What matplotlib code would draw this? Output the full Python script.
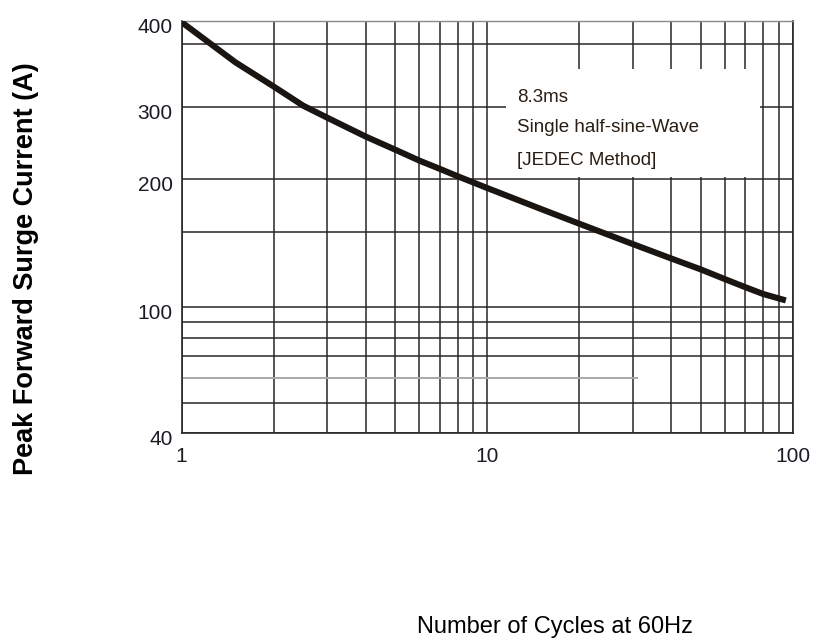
import matplotlib
matplotlib.use("Agg")
import matplotlib.pyplot as plt
import matplotlib.transforms as mtrans
import numpy as np
from matplotlib.patches import Rectangle
from matplotlib.ticker import FixedLocator, NullFormatter

# surge curve
cycles = [1, 1.5, 2, 2.5, 3, 4, 5, 6, 7, 8, 10, 15, 20, 30, 40, 50, 60, 70, 80, 95]
current = [398, 348, 321, 301, 282, 254, 236, 222, 212, 203.5, 190.8, 170.3,
           157.3, 140.8, 130.3, 122.8, 116.5, 111.5, 107.5, 103.8]

# the printed y axis is not a true log axis: labels sit at uneven heights
y_labels = [40, 100, 200, 300, 400]
y_label_pos = [0.0, 126.0, 254.0, 326.6, 412.6]
y_minor = [50, 70, 80, 90, 150, 370]
gray_level = 60
gray_span = [1, 31]

x_ticks = [1, 10, 100]
x_minor = [2, 3, 4, 5, 6, 7, 8, 9, 20, 30, 40, 50, 60, 70, 80, 90]

note_lines = ["8.3ms", "Single half-sine-Wave", "[JEDEC Method]"]

log_lab = np.log10(y_labels)


def fwd(v):
    v = np.clip(np.asarray(v, dtype=float), 1e-6, None)
    return np.interp(np.log10(v), log_lab, y_label_pos)


def inv(p):
    return 10 ** np.interp(np.asarray(p, dtype=float), y_label_pos, log_lab)


fig = plt.figure(figsize=(8.15, 6.43), dpi=100)
ax = fig.add_axes([0.2229, 0.3261, 0.7497, 0.6417])

ax.set_xscale("log")
ax.set_yscale("function", functions=(fwd, inv))
ax.set_xlim(1, 100)
ax.set_ylim(40, 400)

ax.plot(cycles, current, color="#1b1512", lw=4.4, solid_capstyle="butt",
        solid_joinstyle="round", zorder=3)
ax.plot(gray_span, [gray_level, gray_level], color="#a8a8a8", lw=1.4, zorder=1)

ax.xaxis.set_major_locator(FixedLocator(x_ticks))
ax.xaxis.set_minor_locator(FixedLocator(x_minor))
ax.xaxis.set_minor_formatter(NullFormatter())
ax.set_xticklabels([str(t) for t in x_ticks])
ax.yaxis.set_major_locator(FixedLocator(y_labels))
ax.yaxis.set_minor_locator(FixedLocator(y_minor))
ax.yaxis.set_minor_formatter(NullFormatter())
ax.set_yticklabels([str(t) for t in y_labels])

ax.set_axisbelow(True)
ax.grid(True, which="both", color="#2a2624", lw=1.1)
ax.tick_params(which="both", length=0)
ax.tick_params(axis="y", pad=6.5, labelsize=15, labelcolor="#1e1a24")
ax.tick_params(axis="x", pad=10, labelsize=15, labelcolor="#1e1a24")
shift = mtrans.ScaledTranslation(0, -0.045, fig.dpi_scale_trans)
for lab in ax.get_yticklabels():
    lab.set_transform(lab.get_transform() + shift)
    lab.set_family("Liberation Sans")
for lab in ax.get_xticklabels():
    lab.set_family("Liberation Sans")

for side in ["left", "bottom", "right"]:
    ax.spines[side].set_color("#2a2624")
    ax.spines[side].set_linewidth(1.2)
ax.spines["top"].set_color("#8a8a8a")
ax.spines["top"].set_linewidth(1.0)

# white patch behind the note
ax.add_patch(Rectangle((0.531, 0.62), 0.415, 0.262, transform=ax.transAxes,
                       facecolor="white", edgecolor="none", zorder=1.5))
for txt, yy in zip(note_lines, [0.815, 0.742, 0.66]):
    ax.text(0.549, yy, txt, transform=ax.transAxes, ha="left", va="center",
            fontsize=13.5, color="#2a1e14", zorder=4, family="Liberation Sans")

fig.text(555 / 815, 1 - 627 / 643, "Number of Cycles at 60Hz", ha="center",
         va="center", fontsize=17, family="Liberation Sans")
fig.text(26 / 815, 1 - 269 / 643, "Peak Forward Surge Current (A)",
         rotation=90, ha="center", va="center", fontsize=19.5,
         fontweight="bold", family="Liberation Sans")

fig.savefig("out.png", dpi=100)
